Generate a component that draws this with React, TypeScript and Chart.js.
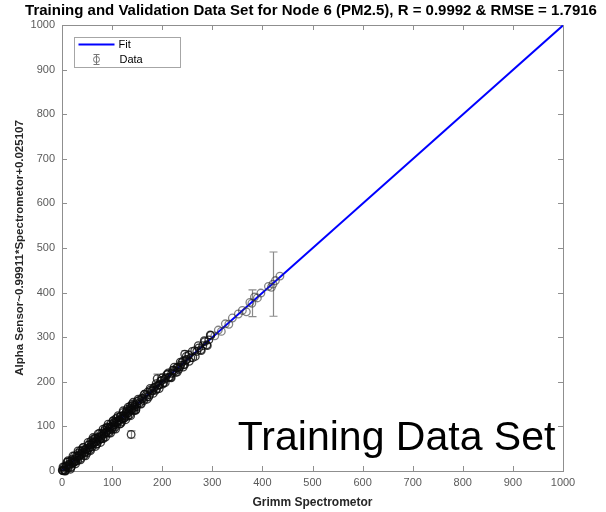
import React, { useEffect, useRef } from 'react';
import { Chart, registerables } from 'chart.js';

Chart.register(...registerables);

const FONT = 'Arial, "Liberation Sans", Helvetica, sans-serif';

const titleText = 'Training and Validation Data Set for Node 6 (PM2.5), R = 0.9992 & RMSE = 1.7916';
const xAxisTitle = 'Grimm Spectrometor';
const yAxisTitle = 'Alpha Sensor~0.99911*Spectrometor+0.025107';
const annotationText = 'Training Data Set';
const legendLabels = ['Fit', 'Data'];

const axisMin = 0;
const axisMax = 1000;
const tickStep = 100;

// Fit line: Alpha Sensor = 0.99911 * Spectrometer + 0.025107
const fitX = [0, 1000];
const fitY = [0.025, 999.135];

// Data points (Grimm spectrometer vs Alpha sensor)
const dataX = [
  0.5, 2.5, 5, 7.5, 10, 12.5, 15, 17.5, 20, 22.5, 25, 27.5, 30, 32.5, 35, 37.5, 40, 42.5, 45, 47.5,
  50, 52.5, 55, 57.5, 60, 62.5, 65, 67.5, 70, 72.5, 75, 77.5, 80, 82.5, 85, 87.5, 90, 92.5, 95, 97.5,
  100, 102.5, 105, 107.5, 110, 112.5, 115, 117.5, 120, 122.5, 125, 127.5, 130, 132.5, 135, 137.5, 140, 142.5, 145, 147.5, 150,
  1.3, 3.8, 6.3, 8.8, 11.3, 13.8, 16.3, 18.8, 21.3, 23.8, 26.3, 28.8, 31.3, 33.8, 36.3, 38.8, 41.3, 43.8, 46.3, 48.8,
  51.3, 53.8, 56.3, 58.8, 61.3, 63.8, 66.3, 68.8, 71.3, 73.8, 76.3, 78.8, 81.3, 83.8, 86.3, 88.8, 91.3, 93.8, 96.3, 98.8,
  101.3, 103.8, 106.3, 108.8, 111.3, 113.8, 116.3, 118.8, 121.3, 123.8, 126.3, 128.8, 131.3, 133.8, 136.3, 138.8, 141.3, 143.8, 146.3, 148.8,
  2, 7, 12, 17, 22, 27, 32, 37, 42, 47, 52, 57, 62, 67, 72, 77, 82, 87, 92, 97,
  102, 107, 112, 117, 122, 127, 132, 137, 142, 147,
  4.5, 9.5, 14.5, 19.5, 24.5, 29.5, 34.5, 39.5, 44.5, 49.5, 54.5, 59.5, 64.5, 69.5, 74.5, 79.5, 84.5, 89.5, 94.5, 99.5,
  104.5, 109.5, 114.5, 119.5, 124.5, 129.5, 134.5, 139.5, 144.5, 149.5,
  153, 157, 161, 165, 169, 173, 177, 181, 185, 189, 193, 197, 201, 205, 209, 213, 217, 221, 225, 229,
  233, 237, 241, 245, 249, 253, 257, 261, 265, 269, 273, 277, 281, 285, 289, 293, 297,
  155, 159, 163, 167, 171, 175, 179, 183, 187, 191, 195, 199, 203, 207, 211, 215, 219, 223, 227, 231, 235, 239, 243, 247,
  152, 158, 164, 170, 176, 182, 188, 194, 200, 206, 212, 218, 224, 230, 236, 242, 248, 254, 260, 266, 272, 278, 284, 290, 296,
  138, 190, 245, 102,
  305, 312, 318, 326, 333, 340, 352, 360, 368, 375, 379, 384, 390, 397, 412, 418, 421, 426, 435,
];
const dataY = [
  2, 0.5, 0.5, 11.5, 20, 7.5, 16, 7.5, 26, 19.5, 34, 21.5, 33, 40.5, 33, 28.5, 44, 52.5, 40, 48.5,
  40, 58.5, 52, 66.5, 54, 65.5, 73, 65.5, 61, 76.5, 85, 72.5, 81, 72.5, 91, 84.5, 99, 86.5, 98, 105.5,
  98, 93.5, 109, 117.5, 105, 113.5, 105, 123.5, 117, 131.5, 119, 130.5, 138, 130.5, 126, 141.5, 150, 137.5, 146, 137.5, 156,
  0.8, 8.8, 1, 8.8, 20.3, 11.8, 22.3, 9.8, 23.3, 18.8, 22.3, 33.8, 23.3, 33.8, 45.3, 36.8, 47.3, 34.8, 48.3, 43.8,
  47.3, 58.8, 48.3, 58.8, 70.3, 61.8, 72.3, 59.8, 73.3, 68.8, 72.3, 83.8, 73.3, 83.8, 95.3, 86.8, 97.3, 84.8, 98.3, 93.8,
  97.3, 108.8, 98.3, 108.8, 120.3, 111.8, 122.3, 109.8, 123.3, 118.8, 122.3, 133.8, 123.3, 133.8, 145.3, 136.8, 147.3, 134.8, 148.3, 143.8,
  9, 0, 23, 4, 34, 16, 45, 25, 53, 34, 64, 46, 75, 55, 83, 64, 94, 76, 105, 85,
  113, 94, 124, 106, 135, 115, 143, 124, 154, 136,
  3.5, 11.5, 14.5, 17.5, 25.5, 28.5, 36.5, 39.5, 42.5, 50.5, 53.5, 61.5, 64.5, 67.5, 75.5, 78.5, 86.5, 89.5, 92.5, 100.5,
  103.5, 111.5, 114.5, 117.5, 125.5, 128.5, 136.5, 139.5, 142.5, 150.5,
  158, 151, 162, 172, 166, 166, 182, 180, 188, 184, 193, 202, 195, 206, 216, 210, 210, 226, 224, 232,
  228, 237, 246, 239, 250, 260, 254, 254, 270, 268, 276, 272, 281, 290, 283, 294, 304,
  153, 163, 158, 169, 177, 171, 179, 186, 181, 192, 193, 203, 198, 209, 217, 211, 219, 226, 221, 232, 233, 243, 238, 249,
  161, 150, 172, 161, 185, 174, 196, 185, 209, 198, 220, 209, 233, 222, 244, 233, 257, 246, 268, 257, 281, 270, 292, 281, 305,
  82, 207, 262, 112,
  303, 316, 313, 330, 329, 343, 352, 360, 357, 378, 376, 390, 388, 399, 414, 412, 419, 427, 437,
];

// Points whose error bars are visible outside their markers
const barX = [138, 190, 245, 379, 421];
const barY = [82, 207, 262, 376, 419];
const barErr = [8, 10, 8, 30, 72];

const framePlugin = {
  id: 'matlabFrame',
  beforeDatasetsDraw(chart: any) {
    const { ctx, chartArea, scales } = chart;
    const { left, right, top, bottom } = chartArea;
    const xs = scales.x;
    const ys = scales.y;
    ctx.save();
    ctx.strokeStyle = '#8f8f8f';
    ctx.lineWidth = 1;
    ctx.strokeRect(Math.round(left) + 0.5, Math.round(top) + 0.5, Math.round(right - left), Math.round(bottom - top));
    ctx.beginPath();
    for (let v = axisMin; v <= axisMax; v += tickStep) {
      const px = Math.round(xs.getPixelForValue(v)) + 0.5;
      ctx.moveTo(px, bottom);
      ctx.lineTo(px, bottom - 5);
      ctx.moveTo(px, top);
      ctx.lineTo(px, top + 5);
      const py = Math.round(ys.getPixelForValue(v)) + 0.5;
      ctx.moveTo(left, py);
      ctx.lineTo(left + 5, py);
      ctx.moveTo(right, py);
      ctx.lineTo(right - 5, py);
    }
    ctx.stroke();

    // error bars
    ctx.strokeStyle = '#8a8a8a';
    ctx.lineWidth = 1.2;
    ctx.beginPath();
    for (let i = 0; i < barX.length; i++) {
      const px = Math.round(xs.getPixelForValue(barX[i])) + 0.5;
      const pt = ys.getPixelForValue(barY[i] + barErr[i]);
      const pb = ys.getPixelForValue(barY[i] - barErr[i]);
      ctx.moveTo(px, pt);
      ctx.lineTo(px, pb);
      ctx.moveTo(px - 4, pt);
      ctx.lineTo(px + 4, pt);
      ctx.moveTo(px - 4, pb);
      ctx.lineTo(px + 4, pb);
    }
    ctx.stroke();
    ctx.restore();
  },
};

const overlayPlugin = {
  id: 'overlayText',
  afterDraw(chart: any) {
    const { ctx, chartArea, scales } = chart;
    const { left, top } = chartArea;
    ctx.save();
    // title
    ctx.fillStyle = '#000';
    ctx.font = `bold 15px ${FONT}`;
    ctx.textAlign = 'center';
    ctx.textBaseline = 'middle';
    ctx.fillText(titleText, 311, 11);

    // annotation
    ctx.font = `41px ${FONT}`;
    ctx.textAlign = 'left';
    ctx.textBaseline = 'alphabetic';
    ctx.fillText(annotationText, scales.x.getPixelForValue(351), scales.y.getPixelForValue(47));

    // legend
    const lx = Math.round(left) + 12.5;
    const ly = Math.round(top) + 12.5;
    const lw = 106;
    const lh = 30;
    ctx.fillStyle = '#fff';
    ctx.fillRect(lx, ly, lw, lh);
    ctx.strokeStyle = '#a6a6a6';
    ctx.lineWidth = 1;
    ctx.strokeRect(lx, ly, lw, lh);

    const row1 = ly + 7;
    const row2 = ly + 22;
    ctx.strokeStyle = '#0000ff';
    ctx.lineWidth = 2;
    ctx.beginPath();
    ctx.moveTo(lx + 4, row1);
    ctx.lineTo(lx + 40, row1);
    ctx.stroke();

    // errorbar + circle marker
    const mx = lx + 22;
    ctx.strokeStyle = '#777';
    ctx.lineWidth = 1;
    ctx.beginPath();
    ctx.moveTo(mx, row2 - 5);
    ctx.lineTo(mx, row2 + 5);
    ctx.moveTo(mx - 3, row2 - 5);
    ctx.lineTo(mx + 3, row2 - 5);
    ctx.moveTo(mx - 3, row2 + 5);
    ctx.lineTo(mx + 3, row2 + 5);
    ctx.stroke();
    ctx.beginPath();
    ctx.arc(mx, row2, 3, 0, Math.PI * 2);
    ctx.stroke();

    ctx.fillStyle = '#000';
    ctx.font = `11px ${FONT}`;
    ctx.textBaseline = 'middle';
    ctx.fillText(legendLabels[0], lx + 44, row1);
    ctx.fillText(legendLabels[1], lx + 45, row2);
    ctx.restore();
  },
};

export default function App() {
  const canvasRef = useRef<HTMLCanvasElement | null>(null);

  useEffect(() => {
    document.body.style.margin = '0';
    const canvas = canvasRef.current;
    if (!canvas) return;

    const scatterPoints = dataX.map((x, i) => ({ x, y: dataY[i] }));
    const fitPoints = fitX.map((x, i) => ({ x, y: fitY[i] }));

    const chart = new Chart(canvas, {
      type: 'scatter',
      data: {
        datasets: [
          {
            type: 'scatter',
            label: legendLabels[1],
            data: scatterPoints,
            pointRadius: 3.8,
            pointBorderWidth: 1.3,
            pointBorderColor: (c: any) =>
              c.raw && c.raw.x >= 300 ? 'rgba(50,50,50,0.6)' : 'rgba(10,10,10,0.8)',
            pointBackgroundColor: 'rgba(0,0,0,0)',
            showLine: false,
            clip: false as any,
            order: 0,
          } as any,
          {
            type: 'line',
            label: legendLabels[0],
            data: fitPoints,
            borderColor: '#0000ff',
            borderWidth: 2,
            pointRadius: 0,
            fill: false,
            order: 1,
          } as any,
        ],
      },
      options: {
        animation: false,
        responsive: true,
        maintainAspectRatio: false,
        layout: { padding: { top: 25, right: 43, left: 0, bottom: 0 } },
        plugins: {
          legend: { display: false },
          title: { display: false },
          tooltip: { enabled: false },
        },
        scales: {
          x: {
            type: 'linear',
            min: axisMin,
            max: axisMax,
            ticks: {
              stepSize: tickStep,
              color: '#5a5a5a',
              font: { size: 11, family: FONT },
              padding: 5,
              maxRotation: 0,
              callback: (v: any) => String(v),
            },
            grid: { display: false, drawTicks: false },
            border: { display: false },
            title: {
              display: true,
              text: xAxisTitle,
              color: '#262626',
              font: { size: 12, weight: 'bold', family: FONT },
              padding: { top: 0, bottom: 2 },
            },
            afterFit(scale: any) {
              scale.height = 41;
            },
          },
          y: {
            type: 'linear',
            min: axisMin,
            max: axisMax,
            ticks: {
              stepSize: tickStep,
              color: '#5a5a5a',
              font: { size: 11, family: FONT },
              padding: 7,
              callback: (v: any) => String(v),
            },
            grid: { display: false, drawTicks: false },
            border: { display: false },
            title: {
              display: true,
              text: yAxisTitle,
              color: '#262626',
              font: { size: 11.5, weight: 'bold', family: FONT },
              padding: { top: 13, bottom: 0 },
            },
            afterFit(scale: any) {
              scale.width = 62;
            },
          },
        },
      },
      plugins: [framePlugin, overlayPlugin],
    });

    return () => {
      chart.destroy();
    };
  }, []);

  return (
    <div style={{ position: 'relative', width: 606, height: 512, background: '#fff' }}>
      <canvas ref={canvasRef} />
    </div>
  );
}
